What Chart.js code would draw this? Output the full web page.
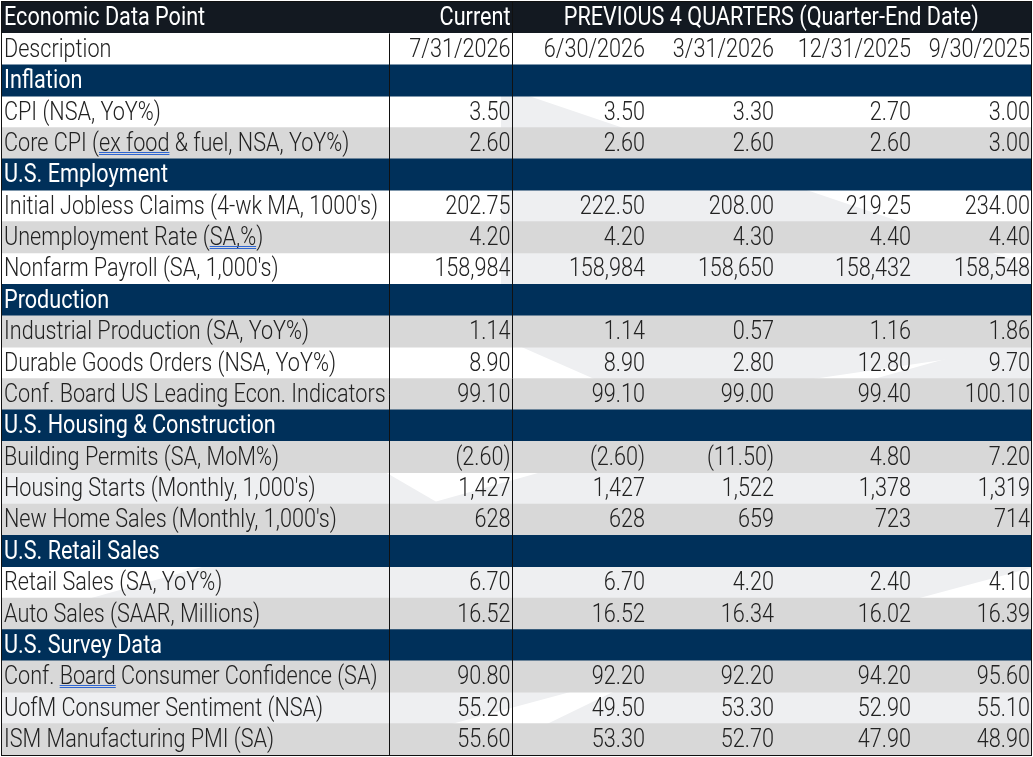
<!DOCTYPE html>
<html>
<head>
<meta charset="utf-8">
<title>Economic Data Points</title>
<script src="https://cdn.jsdelivr.net/npm/chart.js@4.4.1/dist/chart.umd.min.js"></script>
<style>
  html, body { margin: 0; padding: 0; background: #fff; }
  #wrap { width: 1033px; height: 757px; }
</style>
</head>
<body>
<div id="wrap"><canvas id="econTable" width="1033" height="757"></canvas></div>
<script>
const headLabels = ['Economic Data Point', 'Current', 'PREVIOUS 4 QUARTERS (Quarter-End Date)'];
const dateRowLabel = 'Description';
const dates = ['7/31/2026', '6/30/2026', '3/31/2026', '12/31/2025', '9/30/2025'];

const sections = ['Inflation', 'U.S. Employment', 'Production', 'U.S. Housing & Construction', 'U.S. Retail Sales', 'U.S. Survey Data'];
const sectionSizes = [2, 3, 3, 3, 2, 3];

const indicators = [
  'CPI (NSA, YoY%)',
  'Core CPI (ex food & fuel, NSA, YoY%)',
  "Initial Jobless Claims (4-wk MA, 1000's)",
  'Unemployment Rate (SA,%)',
  "Nonfarm Payroll (SA, 1,000's)",
  'Industrial Production (SA, YoY%)',
  'Durable Goods Orders (NSA, YoY%)',
  'Conf. Board US Leading Econ. Indicators',
  'Building Permits (SA, MoM%)',
  "Housing Starts (Monthly, 1,000's)",
  "New Home Sales (Monthly, 1,000's)",
  'Retail Sales (SA, YoY%)',
  'Auto Sales (SAAR, Millions)',
  'Conf. Board Consumer Confidence (SA)',
  'UofM Consumer Sentiment (NSA)',
  'ISM Manufacturing PMI (SA)'
];

const current = [3.50, 2.60, 202.75, 4.20, 158984, 1.14, 8.90, 99.10, -2.60, 1427, 628, 6.70, 16.52, 90.80, 55.20, 55.60];
const q2_2026 = [3.50, 2.60, 222.50, 4.20, 158984, 1.14, 8.90, 99.10, -2.60, 1427, 628, 6.70, 16.52, 92.20, 49.50, 53.30];
const q1_2026 = [3.30, 2.60, 208.00, 4.30, 158650, 0.57, 2.80, 99.00, -11.50, 1522, 659, 4.20, 16.34, 92.20, 53.30, 52.70];
const q4_2025 = [2.70, 2.60, 219.25, 4.40, 158432, 1.16, 12.80, 99.40, 4.80, 1378, 723, 2.40, 16.02, 94.20, 52.90, 47.90];
const q3_2025 = [3.00, 3.00, 234.00, 4.40, 158548, 1.86, 9.70, 100.10, 7.20, 1319, 714, 4.10, 16.39, 95.60, 55.10, 48.90];
const decimals = [2, 2, 2, 2, 0, 2, 2, 2, 2, 0, 0, 2, 2, 2, 2, 2];

// words with the blue spell-check double underline in the source
const underlined = [[1, 'ex food'], [3, 'SA,%'], [13, 'Board']];

// ---- styling / layout ----
const TABLE_W = 1029;                 // x-scale units == pixels inside chart area
const colRight = [508.5, 643, 772, 909, 1028];
const DESC_SPLIT = 387, CUR_SPLIT = 509.5;
const HEAD_BG = '#131921', SECTION_BG = '#00305a', GRAY = '#d8d8d8', WM = '#eeeff1';
const TEXT = '#222222';
const FONT_BODY = '300 25px Roboto';
const FONT_HEAD = '400 25px Roboto';
const SX = 0.865;                     // source text is rendered narrow
const BASE = 7.8;                     // baseline offset below row centre
// white / gray striping of indicator rows
const shade = ['w', 'g', 'w', 'g', 'w', 'g', 'w', 'g', 'g', 'w', 'g', 'w', 'g', 'g', 'w', 'g'];
// faint logo watermark behind the white rows (x in scale units, y in px from top of table)
const watermark = [
  [[499, 91], [518, 91], [1029, 264], [1029, 345], [647, 401], [499, 336]],
  [[0, 621], [1029, 333], [1029, 566], [0, 843]],
  [[0, 438], [383, 470], [438, 502], [0, 558]],
  [[611, 690], [1029, 690], [1029, 722], [545, 722]]
];

function fmt(v, d) {
  const s = Math.abs(v).toLocaleString('en-US', { minimumFractionDigits: d, maximumFractionDigits: d });
  return v < 0 ? '(' + s + ')' : s;
}

// narrow text helper
function drawText(ctx, txt, px, py, align) {
  ctx.save();
  ctx.translate(px, py);
  ctx.scale(SX, 1);
  ctx.textAlign = align;
  ctx.fillText(txt, 0, 0);
  ctx.restore();
}

// build the row list top to bottom
const rowLabels = [headLabels[0], dateRowLabel];
const rowKind = ['head', 'date'];
const rowIdx = [-1, -1];
let k = 0;
sections.forEach((s, si) => {
  rowLabels.push(s); rowKind.push('section'); rowIdx.push(-1);
  for (let j = 0; j < sectionSizes[si]; j++) {
    rowLabels.push(indicators[k]); rowKind.push('data'); rowIdx.push(k);
    k++;
  }
});
const columns = [current, q2_2026, q1_2026, q4_2025, q3_2025];

const rowColors = rowKind.map((kind, i) => {
  if (kind === 'head') return HEAD_BG;
  if (kind === 'section') return SECTION_BG;
  if (kind === 'date') return '#ffffff';
  return shade[rowIdx[i]] === 'g' ? GRAY : 'rgba(0,0,0,0)';
});

const tablePlugin = {
  id: 'tableText',
  beforeDatasetsDraw(chart) {
    const { ctx, chartArea: a, scales: { x } } = chart;
    ctx.save();
    ctx.fillStyle = '#fff';
    ctx.fillRect(a.left, a.top, a.width, a.height);
    ctx.beginPath(); ctx.rect(a.left, a.top, a.width, a.height); ctx.clip();
    ctx.fillStyle = WM;
    watermark.forEach(poly => {
      ctx.beginPath();
      poly.forEach(([px, py], i) => {
        const X = x.getPixelForValue(px), Y = a.top + py;
        if (i) ctx.lineTo(X, Y); else ctx.moveTo(X, Y);
      });
      ctx.closePath();
      ctx.fill();
    });
    ctx.restore();
  },
  afterDatasetsDraw(chart) {
    const { ctx, chartArea: a, scales: { x, y } } = chart;
    const rowH = a.height / rowLabels.length;
    ctx.save();

    // column rules
    ctx.strokeStyle = '#111';
    ctx.lineWidth = 1;
    const xd = Math.round(x.getPixelForValue(DESC_SPLIT)) + 0.5;
    const xc = Math.round(x.getPixelForValue(CUR_SPLIT)) + 0.5;
    ctx.beginPath();
    ctx.moveTo(xd, a.top + rowH); ctx.lineTo(xd, a.bottom);
    ctx.moveTo(xc, a.top); ctx.lineTo(xc, a.bottom);
    ctx.stroke();
    ctx.strokeRect(a.left - 0.5, a.top - 0.5, a.width + 1, a.height + 1);

    ctx.textBaseline = 'alphabetic';
    rowKind.forEach((kind, i) => {
      const yb = y.getPixelForValue(i) + BASE;
      const lx = x.getPixelForValue(2);
      if (kind === 'head') {
        ctx.font = FONT_HEAD; ctx.fillStyle = '#fff';
        drawText(ctx, headLabels[0], lx, yb, 'left');
        drawText(ctx, headLabels[1], x.getPixelForValue(colRight[0]), yb, 'right');
        drawText(ctx, headLabels[2], (x.getPixelForValue(CUR_SPLIT) + x.getPixelForValue(TABLE_W)) / 2, yb, 'center');
      } else if (kind === 'section') {
        ctx.font = FONT_HEAD; ctx.fillStyle = '#fff';
        drawText(ctx, rowLabels[i], lx, yb, 'left');
      } else {
        ctx.font = FONT_BODY; ctx.fillStyle = TEXT;
        drawText(ctx, rowLabels[i], lx, yb, 'left');
        columns.forEach((col, c) => {
          const txt = kind === 'date' ? dates[c] : fmt(col[rowIdx[i]], decimals[rowIdx[i]]);
          drawText(ctx, txt, x.getPixelForValue(colRight[c]), yb, 'right');
        });
        // spell-check underline
        underlined.forEach(([ind, word]) => {
          if (ind !== rowIdx[i]) return;
          const lbl = rowLabels[i];
          const start = lx + SX * ctx.measureText(lbl.slice(0, lbl.indexOf(word))).width;
          const w = SX * ctx.measureText(word).width;
          const uy = Math.round(yb) + 1;
          ctx.fillStyle = '#2f66d0';
          ctx.fillRect(start, uy, w, 1);
          ctx.fillRect(start, uy + 2, w, 1);
          ctx.fillStyle = TEXT;
        });
      }
    });
    ctx.restore();
  }
};

new Chart(document.getElementById('econTable'), {
  type: 'bar',
  data: {
    labels: rowLabels,
    datasets: [{
      label: 'rows',
      data: rowLabels.map(() => [0, TABLE_W]),
      backgroundColor: rowColors,
      borderWidth: 0,
      barPercentage: 1,
      categoryPercentage: 1
    }]
  },
  options: {
    indexAxis: 'y',
    responsive: false,
    animation: false,
    events: [],
    layout: { padding: { left: 2, right: 2, top: 2, bottom: 2 } },
    plugins: { legend: { display: false }, tooltip: { enabled: false } },
    scales: {
      x: { type: 'linear', min: 0, max: TABLE_W, display: false },
      y: { type: 'category', display: false, offset: true }
    }
  },
  plugins: [tablePlugin]
});
</script>
</body>
</html>
